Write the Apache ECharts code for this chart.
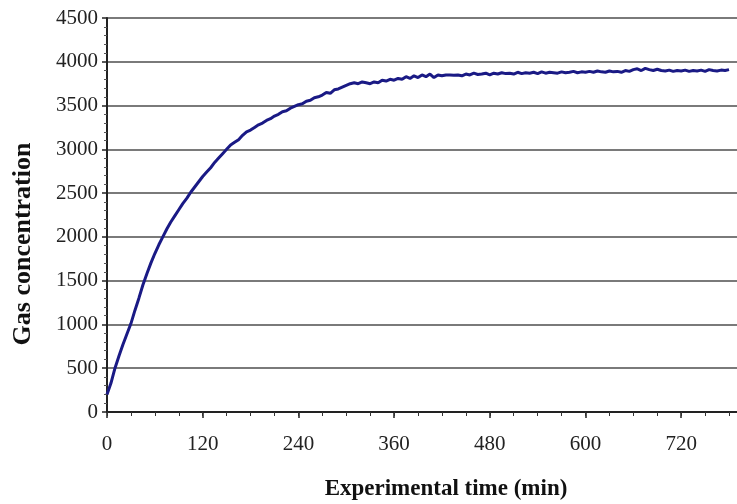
<!DOCTYPE html>
<html>
<head>
<meta charset="utf-8">
<script src="https://cdn.jsdelivr.net/npm/echarts@6/dist/echarts.min.js"></script>
<style>
  html, body { margin: 0; padding: 0; background: #fff; }
  #chart { width: 737px; height: 504px; }
</style>
</head>
<body>
<div id="chart"></div>
<script>
// time in minutes, sampled every 5 min
const times = []
for (let t = 0; t <= 780; t += 5) times.push(t)

// gas concentration
const gasValues = [
  200, 330, 500, 640, 770, 890, 1010, 1160, 1300, 1450,
  1580, 1700, 1810, 1910, 2000, 2090, 2170, 2240, 2310, 2380,
  2440, 2510, 2570, 2630, 2690, 2740, 2790, 2850, 2900, 2950,
  3000, 3050, 3080, 3110, 3160, 3200, 3220, 3250, 3280, 3300,
  3330, 3350, 3380, 3400, 3430, 3440, 3470, 3490, 3510, 3520,
  3550, 3560, 3590, 3600, 3620, 3650, 3640, 3680, 3690, 3710,
  3730, 3750, 3760, 3750, 3770, 3760, 3750, 3770, 3760, 3790,
  3780, 3800, 3790, 3810, 3800, 3830, 3810, 3840, 3820, 3850,
  3830, 3860, 3820, 3850, 3840, 3850, 3850, 3845, 3850, 3840,
  3860, 3850, 3870, 3855, 3860, 3870, 3850, 3870, 3860, 3875,
  3865, 3870, 3860, 3880, 3865, 3875, 3870, 3880, 3865, 3885,
  3870, 3880, 3875, 3870, 3885, 3875, 3880, 3890, 3875, 3885,
  3880, 3890, 3880, 3895, 3885, 3880, 3895, 3885, 3890, 3880,
  3900, 3890, 3910, 3920, 3900, 3925, 3910, 3900, 3915, 3900,
  3895, 3905, 3890, 3900, 3895, 3905, 3890, 3900, 3895, 3905,
  3890, 3910, 3900, 3895, 3905, 3900, 3910
]

const serif = '"Liberation Serif", "Times New Roman", serif'
const chart = echarts.init(document.getElementById('chart'))

chart.setOption({
  animation: false,
  backgroundColor: '#fff',
  grid: {
    left: 107, right: 0, top: 18, bottom: 92,
    containLabel: false,
    outerBoundsMode: 'none'
  },
  xAxis: [{
    type: 'value',
    min: 0,
    max: 790,
    interval: 120,
    name: 'Experimental time (min)',
    nameLocation: 'middle',
    nameGap: 66,
    nameTextStyle: {
      fontFamily: serif, fontSize: 23, fontWeight: 'bold', color: '#111',
      padding: [0, 0, 0, 48]
    },
    axisLine: { lineStyle: { color: '#222', width: 2 } },
    axisTick: { show: true, length: 6, lineStyle: { color: '#222', width: 1.5 } },
    axisLabel: {
      fontFamily: serif, fontSize: 21, color: '#222', margin: 22,
      showMaxLabel: false,
      formatter: v => (v % 120 === 0 ? String(v) : '')
    },
    splitLine: { show: false }
  }, {
    // minor ticks every 30 min
    type: 'value',
    position: 'bottom',
    min: 0,
    max: 790,
    interval: 30,
    axisLine: { show: false },
    axisTick: { show: true, length: 4, lineStyle: { color: '#333', width: 1 } },
    axisLabel: { show: false },
    splitLine: { show: false }
  }],
  yAxis: {
    type: 'value',
    min: 0,
    max: 4500,
    interval: 500,
    name: 'Gas concentration',
    nameLocation: 'middle',
    nameGap: 71,
    nameRotate: 90,
    nameTextStyle: {
      fontFamily: serif, fontSize: 26, fontWeight: 'bold', color: '#111',
      padding: [0, 58, 0, 0]
    },
    axisLine: { show: true, lineStyle: { color: '#222', width: 2 } },
    axisTick: { show: true, length: 5, lineStyle: { color: '#222', width: 1.5 } },
    minorTick: { show: true, splitNumber: 5, length: 3, lineStyle: { color: '#555' } },
    axisLabel: {
      fontFamily: serif, fontSize: 21, color: '#222', margin: 9,
      formatter: v => String(v)
    },
    splitLine: { show: true, lineStyle: { color: '#7a7a7a', width: 2 } }
  },
  series: [{
    type: 'line',
    xAxisIndex: 0,
    data: times.map((t, i) => [t, gasValues[i]]),
    showSymbol: false,
    lineStyle: { color: '#1a1a85', width: 3 }
  }]
})
</script>
</body>
</html>
